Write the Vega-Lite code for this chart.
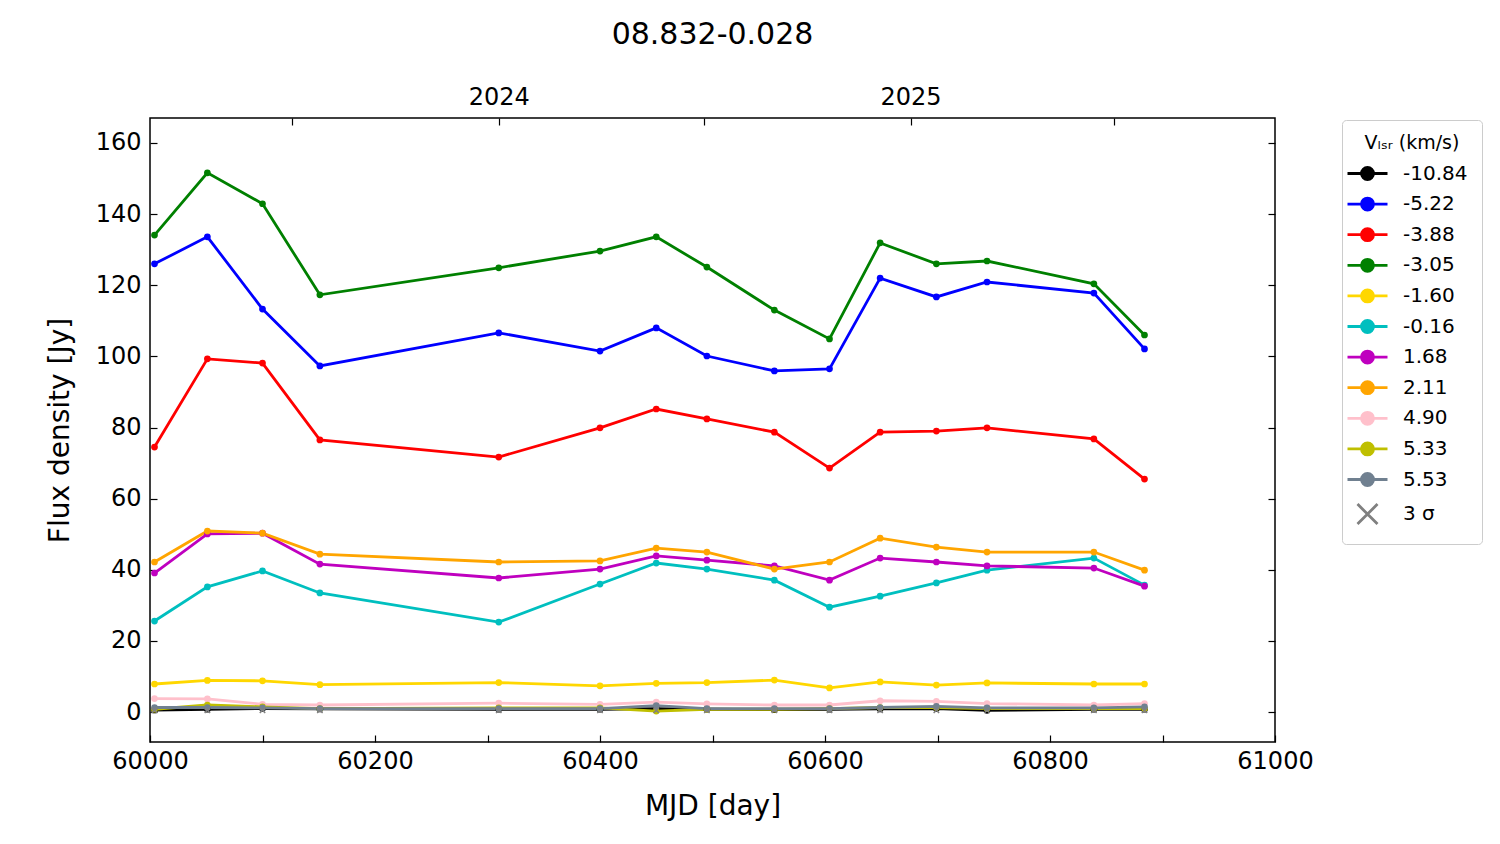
{
  "$schema": "https://vega.github.io/schema/vega-lite/v6.json",
  "width": 1125,
  "height": 624,
  "autosize": {"type": "none"},
  "padding": {"left": 150, "top": 118, "right": 225, "bottom": 102},
  "title": {"text": "08.832-0.028", "fontSize": 30, "fontWeight": "normal", "font": "DejaVu Sans", "color": "#000", "anchor": "middle", "offset": 35},
  "config": {
    "view": {"stroke": "#000", "strokeWidth": 1.5},
    "font": "DejaVu Sans",
    "axis": {
      "domain": false, "grid": false, "tickColor": "#000", "tickWidth": 1.2, "tickSize": -7, "labelFlush": false,
      "labelFont": "DejaVu Sans", "labelFontSize": 24, "labelColor": "#000",
      "titleFont": "DejaVu Sans", "titleFontSize": 28, "titleFontWeight": "normal", "titleColor": "#000"
    }
  },
  "data": {
    "values": [
      {"mjd": 60004, "v": "-10.84", "flux": 0.6}, {"mjd": 60051, "v": "-10.84", "flux": 0.8}, {"mjd": 60100, "v": "-10.84", "flux": 1.0}, {"mjd": 60151, "v": "-10.84", "flux": 0.9}, {"mjd": 60310, "v": "-10.84", "flux": 0.8}, {"mjd": 60400, "v": "-10.84", "flux": 0.8}, {"mjd": 60450, "v": "-10.84", "flux": 1.0}, {"mjd": 60495, "v": "-10.84", "flux": 0.8}, {"mjd": 60555, "v": "-10.84", "flux": 0.7}, {"mjd": 60604, "v": "-10.84", "flux": 0.8}, {"mjd": 60649, "v": "-10.84", "flux": 0.9}, {"mjd": 60699, "v": "-10.84", "flux": 1.0}, {"mjd": 60744, "v": "-10.84", "flux": 0.5}, {"mjd": 60839, "v": "-10.84", "flux": 0.8}, {"mjd": 60884, "v": "-10.84", "flux": 0.8},
      {"mjd": 60004, "v": "-5.22", "flux": 126.0}, {"mjd": 60051, "v": "-5.22", "flux": 133.6}, {"mjd": 60100, "v": "-5.22", "flux": 113.3}, {"mjd": 60151, "v": "-5.22", "flux": 97.3}, {"mjd": 60310, "v": "-5.22", "flux": 106.6}, {"mjd": 60400, "v": "-5.22", "flux": 101.5}, {"mjd": 60450, "v": "-5.22", "flux": 108.0}, {"mjd": 60495, "v": "-5.22", "flux": 100.1}, {"mjd": 60555, "v": "-5.22", "flux": 95.9}, {"mjd": 60604, "v": "-5.22", "flux": 96.5}, {"mjd": 60649, "v": "-5.22", "flux": 122.0}, {"mjd": 60699, "v": "-5.22", "flux": 116.7}, {"mjd": 60744, "v": "-5.22", "flux": 120.9}, {"mjd": 60839, "v": "-5.22", "flux": 117.8}, {"mjd": 60884, "v": "-5.22", "flux": 102.1},
      {"mjd": 60004, "v": "-3.88", "flux": 74.5}, {"mjd": 60051, "v": "-3.88", "flux": 99.3}, {"mjd": 60100, "v": "-3.88", "flux": 98.1}, {"mjd": 60151, "v": "-3.88", "flux": 76.5}, {"mjd": 60310, "v": "-3.88", "flux": 71.7}, {"mjd": 60400, "v": "-3.88", "flux": 79.9}, {"mjd": 60450, "v": "-3.88", "flux": 85.2}, {"mjd": 60495, "v": "-3.88", "flux": 82.4}, {"mjd": 60555, "v": "-3.88", "flux": 78.7}, {"mjd": 60604, "v": "-3.88", "flux": 68.6}, {"mjd": 60649, "v": "-3.88", "flux": 78.7}, {"mjd": 60699, "v": "-3.88", "flux": 79.0}, {"mjd": 60744, "v": "-3.88", "flux": 79.9}, {"mjd": 60839, "v": "-3.88", "flux": 76.8}, {"mjd": 60884, "v": "-3.88", "flux": 65.5},
      {"mjd": 60004, "v": "-3.05", "flux": 134.1}, {"mjd": 60051, "v": "-3.05", "flux": 151.6}, {"mjd": 60100, "v": "-3.05", "flux": 142.9}, {"mjd": 60151, "v": "-3.05", "flux": 117.3}, {"mjd": 60310, "v": "-3.05", "flux": 124.9}, {"mjd": 60400, "v": "-3.05", "flux": 129.6}, {"mjd": 60450, "v": "-3.05", "flux": 133.6}, {"mjd": 60495, "v": "-3.05", "flux": 125.1}, {"mjd": 60555, "v": "-3.05", "flux": 113.0}, {"mjd": 60604, "v": "-3.05", "flux": 104.9}, {"mjd": 60649, "v": "-3.05", "flux": 131.9}, {"mjd": 60699, "v": "-3.05", "flux": 126.0}, {"mjd": 60744, "v": "-3.05", "flux": 126.8}, {"mjd": 60839, "v": "-3.05", "flux": 120.4}, {"mjd": 60884, "v": "-3.05", "flux": 106.0},
      {"mjd": 60004, "v": "-1.60", "flux": 7.9}, {"mjd": 60051, "v": "-1.60", "flux": 8.9}, {"mjd": 60100, "v": "-1.60", "flux": 8.8}, {"mjd": 60151, "v": "-1.60", "flux": 7.7}, {"mjd": 60310, "v": "-1.60", "flux": 8.3}, {"mjd": 60400, "v": "-1.60", "flux": 7.4}, {"mjd": 60450, "v": "-1.60", "flux": 8.1}, {"mjd": 60495, "v": "-1.60", "flux": 8.3}, {"mjd": 60555, "v": "-1.60", "flux": 9.0}, {"mjd": 60604, "v": "-1.60", "flux": 6.8}, {"mjd": 60649, "v": "-1.60", "flux": 8.5}, {"mjd": 60699, "v": "-1.60", "flux": 7.6}, {"mjd": 60744, "v": "-1.60", "flux": 8.2}, {"mjd": 60839, "v": "-1.60", "flux": 7.9}, {"mjd": 60884, "v": "-1.60", "flux": 7.9},
      {"mjd": 60004, "v": "-0.16", "flux": 25.6}, {"mjd": 60051, "v": "-0.16", "flux": 35.2}, {"mjd": 60100, "v": "-0.16", "flux": 39.7}, {"mjd": 60151, "v": "-0.16", "flux": 33.5}, {"mjd": 60310, "v": "-0.16", "flux": 25.3}, {"mjd": 60400, "v": "-0.16", "flux": 36.0}, {"mjd": 60450, "v": "-0.16", "flux": 41.9}, {"mjd": 60495, "v": "-0.16", "flux": 40.2}, {"mjd": 60555, "v": "-0.16", "flux": 37.1}, {"mjd": 60604, "v": "-0.16", "flux": 29.5}, {"mjd": 60649, "v": "-0.16", "flux": 32.6}, {"mjd": 60699, "v": "-0.16", "flux": 36.3}, {"mjd": 60744, "v": "-0.16", "flux": 39.9}, {"mjd": 60839, "v": "-0.16", "flux": 43.3}, {"mjd": 60884, "v": "-0.16", "flux": 35.7},
      {"mjd": 60004, "v": "1.68", "flux": 39.1}, {"mjd": 60051, "v": "1.68", "flux": 50.1}, {"mjd": 60100, "v": "1.68", "flux": 50.3}, {"mjd": 60151, "v": "1.68", "flux": 41.6}, {"mjd": 60310, "v": "1.68", "flux": 37.7}, {"mjd": 60400, "v": "1.68", "flux": 40.2}, {"mjd": 60450, "v": "1.68", "flux": 43.9}, {"mjd": 60495, "v": "1.68", "flux": 42.7}, {"mjd": 60555, "v": "1.68", "flux": 41.1}, {"mjd": 60604, "v": "1.68", "flux": 37.1}, {"mjd": 60649, "v": "1.68", "flux": 43.3}, {"mjd": 60699, "v": "1.68", "flux": 42.2}, {"mjd": 60744, "v": "1.68", "flux": 41.1}, {"mjd": 60839, "v": "1.68", "flux": 40.5}, {"mjd": 60884, "v": "1.68", "flux": 35.4},
      {"mjd": 60004, "v": "2.11", "flux": 42.2}, {"mjd": 60051, "v": "2.11", "flux": 50.9}, {"mjd": 60100, "v": "2.11", "flux": 50.3}, {"mjd": 60151, "v": "2.11", "flux": 44.4}, {"mjd": 60310, "v": "2.11", "flux": 42.2}, {"mjd": 60400, "v": "2.11", "flux": 42.5}, {"mjd": 60450, "v": "2.11", "flux": 46.1}, {"mjd": 60495, "v": "2.11", "flux": 45.0}, {"mjd": 60555, "v": "2.11", "flux": 40.2}, {"mjd": 60604, "v": "2.11", "flux": 42.2}, {"mjd": 60649, "v": "2.11", "flux": 48.9}, {"mjd": 60699, "v": "2.11", "flux": 46.4}, {"mjd": 60744, "v": "2.11", "flux": 45.0}, {"mjd": 60839, "v": "2.11", "flux": 45.0}, {"mjd": 60884, "v": "2.11", "flux": 39.9},
      {"mjd": 60004, "v": "4.90", "flux": 3.8}, {"mjd": 60051, "v": "4.90", "flux": 3.7}, {"mjd": 60100, "v": "4.90", "flux": 2.2}, {"mjd": 60151, "v": "4.90", "flux": 2.0}, {"mjd": 60310, "v": "4.90", "flux": 2.5}, {"mjd": 60400, "v": "4.90", "flux": 2.2}, {"mjd": 60450, "v": "4.90", "flux": 2.8}, {"mjd": 60495, "v": "4.90", "flux": 2.3}, {"mjd": 60555, "v": "4.90", "flux": 2.0}, {"mjd": 60604, "v": "4.90", "flux": 2.0}, {"mjd": 60649, "v": "4.90", "flux": 3.2}, {"mjd": 60699, "v": "4.90", "flux": 3.0}, {"mjd": 60744, "v": "4.90", "flux": 2.4}, {"mjd": 60839, "v": "4.90", "flux": 2.0}, {"mjd": 60884, "v": "4.90", "flux": 2.4},
      {"mjd": 60004, "v": "5.33", "flux": 0.8}, {"mjd": 60051, "v": "5.33", "flux": 2.0}, {"mjd": 60100, "v": "5.33", "flux": 1.5}, {"mjd": 60151, "v": "5.33", "flux": 1.0}, {"mjd": 60310, "v": "5.33", "flux": 1.2}, {"mjd": 60400, "v": "5.33", "flux": 1.2}, {"mjd": 60450, "v": "5.33", "flux": 0.3}, {"mjd": 60495, "v": "5.33", "flux": 0.8}, {"mjd": 60555, "v": "5.33", "flux": 0.8}, {"mjd": 60604, "v": "5.33", "flux": 1.0}, {"mjd": 60649, "v": "5.33", "flux": 1.3}, {"mjd": 60699, "v": "5.33", "flux": 1.3}, {"mjd": 60744, "v": "5.33", "flux": 1.0}, {"mjd": 60839, "v": "5.33", "flux": 1.0}, {"mjd": 60884, "v": "5.33", "flux": 1.0},
      {"mjd": 60004, "v": "5.53", "flux": 1.3}, {"mjd": 60051, "v": "5.53", "flux": 1.3}, {"mjd": 60100, "v": "5.53", "flux": 1.2}, {"mjd": 60151, "v": "5.53", "flux": 1.0}, {"mjd": 60310, "v": "5.53", "flux": 1.0}, {"mjd": 60400, "v": "5.53", "flux": 1.0}, {"mjd": 60450, "v": "5.53", "flux": 1.8}, {"mjd": 60495, "v": "5.53", "flux": 1.0}, {"mjd": 60555, "v": "5.53", "flux": 1.0}, {"mjd": 60604, "v": "5.53", "flux": 1.0}, {"mjd": 60649, "v": "5.53", "flux": 1.3}, {"mjd": 60699, "v": "5.53", "flux": 1.6}, {"mjd": 60744, "v": "5.53", "flux": 1.2}, {"mjd": 60839, "v": "5.53", "flux": 1.2}, {"mjd": 60884, "v": "5.53", "flux": 1.5},
      {"mjd": 60004, "v": "3 σ", "flux": 0.5}, {"mjd": 60051, "v": "3 σ", "flux": 0.5}, {"mjd": 60100, "v": "3 σ", "flux": 0.5}, {"mjd": 60151, "v": "3 σ", "flux": 0.5}, {"mjd": 60310, "v": "3 σ", "flux": 0.5}, {"mjd": 60400, "v": "3 σ", "flux": 0.5}, {"mjd": 60450, "v": "3 σ", "flux": 0.5}, {"mjd": 60495, "v": "3 σ", "flux": 0.5}, {"mjd": 60555, "v": "3 σ", "flux": 0.5}, {"mjd": 60604, "v": "3 σ", "flux": 0.5}, {"mjd": 60649, "v": "3 σ", "flux": 0.5}, {"mjd": 60699, "v": "3 σ", "flux": 0.5}, {"mjd": 60744, "v": "3 σ", "flux": 0.5}, {"mjd": 60839, "v": "3 σ", "flux": 0.5}, {"mjd": 60884, "v": "3 σ", "flux": 0.5}
    ]
  },
  "layer": [
    {
      "transform": [{"filter": "datum.v !== '3 σ'"}],
      "mark": {"type": "line", "strokeWidth": 2.8},
      "encoding": {
        "x": {"field": "mjd", "type": "quantitative", "scale": {"domain": [60000, 61000], "nice": false, "zero": false},
          "axis": {"orient": "bottom", "title": "MJD [day]", "values": [60000, 60100, 60200, 60300, 60400, 60500, 60600, 60700, 60800, 60900, 61000],
            "format": "d", "labelExpr": "datum.value % 200 === 0 ? datum.label : ''", "labelPadding": 14, "titlePadding": 19,
            "encode": {"ticks": {"update": {"y2": {"signal": "datum.value % 200 === 0 ? -7 : -4"}}}}}},
        "y": {"field": "flux", "type": "quantitative", "scale": {"domain": [-8.4, 167], "nice": false, "zero": false},
          "axis": {"orient": "left", "title": "Flux density [Jy]", "values": [0, 20, 40, 60, 80, 100, 120, 140, 160], "labelPadding": 16, "titlePadding": 21}},
        "color": {"field": "v", "type": "nominal",
          "scale": {"domain": ["-10.84", "-5.22", "-3.88", "-3.05", "-1.60", "-0.16", "1.68", "2.11", "4.90", "5.33", "5.53", "3 σ"],
            "range": ["#000000", "#0000ff", "#ff0000", "#008000", "#ffd700", "#00bfbf", "#bf00bf", "#ffa500", "#ffc0cb", "#bfbf00", "#708090", "#808080"]},
          "legend": {"title": "Vₗₛᵣ (km/s)", "orient": "none", "legendX": 1192, "legendY": 2,
            "titleFont": "DejaVu Sans", "titleFontSize": 19, "titleFontWeight": "normal", "titleAnchor": "middle", "titleColor": "#000", "titlePadding": 9,
            "labelFont": "DejaVu Sans", "labelFontSize": 20, "labelColor": "#000", "labelOffset": 24,
            "symbolSize": 400, "rowPadding": 5.6, "padding": 14, "strokeColor": "#cccccc", "fillColor": "#ffffff", "cornerRadius": 4,
            "encode": {"symbols": {"update": {
              "shape": {"signal": "datum.value === '3 σ' ? 'M-1,-1L1,1M-1,1L1,-1' : 'M-2,0H2M0.6,0A0.6,0.6 0 1,1 -0.6,0A0.6,0.6 0 1,1 0.6,0Z'"},
              "fill": {"scale": "color", "field": "value"}, "stroke": {"scale": "color", "field": "value"},
              "strokeWidth": {"value": 2.8}, "opacity": {"value": 1}, "fillOpacity": {"value": 1}, "strokeOpacity": {"value": 1}}}}}}
      }
    },
    {
      "transform": [{"filter": "datum.v !== '3 σ'"}],
      "mark": {"type": "point", "shape": "circle", "filled": true, "size": 45, "opacity": 1},
      "encoding": {
        "x": {"field": "mjd", "type": "quantitative",
          "axis": {"orient": "top", "title": null, "values": [60126, 60310, 60492, 60676, 60857],
            "labelExpr": "datum.value === 60310 ? '2024' : datum.value === 60676 ? '2025' : ''", "labelPadding": 16,
            "encode": {"ticks": {"update": {"y2": {"signal": "datum.value === 60310 || datum.value === 60676 ? 7 : 4"}}}}}},
        "y": {"field": "flux", "type": "quantitative", "axis": {"orient": "right", "title": null, "labels": false, "values": [0, 20, 40, 60, 80, 100, 120, 140, 160]}},
        "color": {"field": "v", "type": "nominal"}
      }
    },
    {
      "transform": [{"filter": "datum.v === '3 σ'"}],
      "mark": {"type": "point", "shape": "M-1,-1L1,1M-1,1L1,-1", "filled": false, "size": 30, "strokeWidth": 1.5, "opacity": 1},
      "encoding": {
        "x": {"field": "mjd", "type": "quantitative", "axis": null},
        "y": {"field": "flux", "type": "quantitative", "axis": null},
        "color": {"field": "v", "type": "nominal"}
      }
    }
  ],
  "resolve": {"axis": {"x": "independent", "y": "independent"}}
}
